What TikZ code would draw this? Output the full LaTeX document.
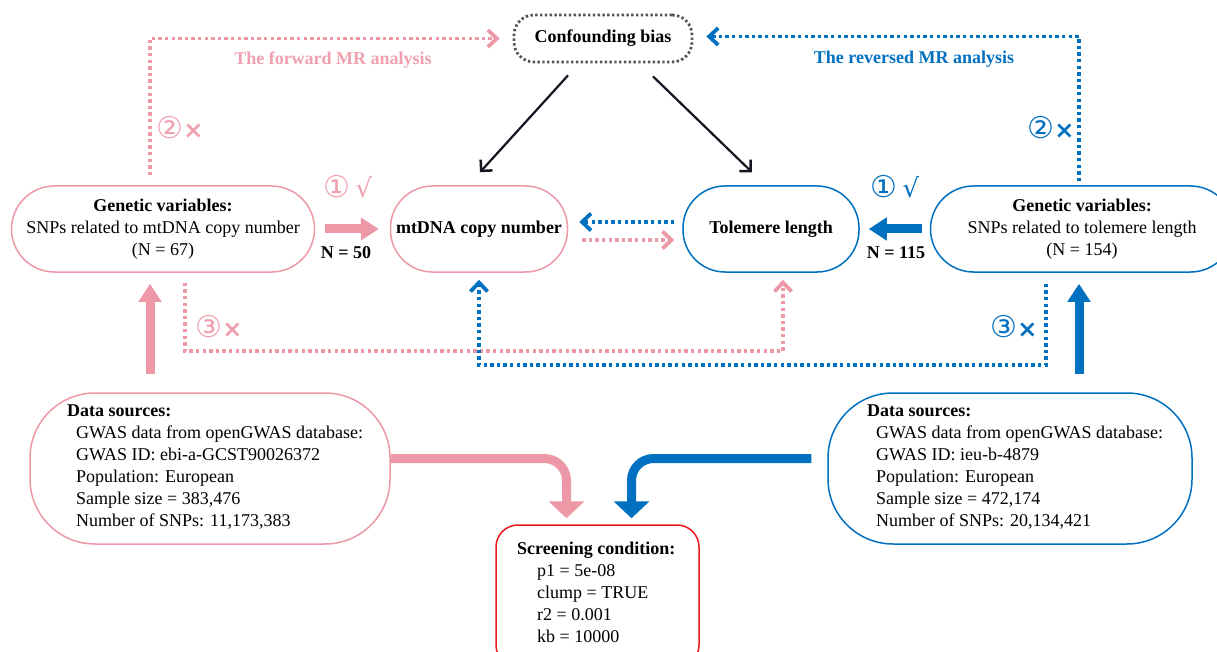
\documentclass[tikz,border=0pt]{standalone}
\usepackage{fontspec}
\setmainfont{Liberation Serif}
\newfontfamily\symf{DejaVu Sans}
\usetikzlibrary{arrows.meta,calc}
\definecolor{pk}{RGB}{236,152,166}
\definecolor{pkt}{RGB}{240,160,174}
\definecolor{bl}{RGB}{0,112,192}
\definecolor{rd}{RGB}{235,25,30}
\definecolor{dgray}{RGB}{85,85,85}
\definecolor{blk}{RGB}{20,20,35}
\newcommand{\cnum}[1]{{\fontsize{30}{30}\selectfont #1}}
\newcommand{\xmark}{{\fontsize{24}{24}\selectfont\bfseries ×}}
\newcommand{\ckmark}{{\fontsize{26}{26}\selectfont √}}
\begin{document}
\begin{tikzpicture}[x=1pt,y=-1pt,
  txt/.style={font=\fontsize{18}{22}\selectfont, inner sep=0pt},
  btxt/.style={font=\bfseries\fontsize{18}{22}\selectfont, inner sep=0pt},
  sym/.style={font=\symf, inner sep=0pt},
  box/.style={draw, line width=1.5pt, rounded corners=#1, inner sep=0pt, align=center, font=\fontsize{18}{22}\selectfont},
  chev/.style={-{Straight Barb[length=9pt,width=17pt,line width=3.8pt]}},
  pdot/.style={draw=pk, line width=3.8pt, dash pattern=on 3.4pt off 3.2pt, chev},
  bdot/.style={draw=bl, line width=3.8pt, dash pattern=on 3.4pt off 3.2pt, chev},
  thick arrow/.style={line width=9pt, -{Triangle[length=18pt,width=22pt]}},
  bend arrow/.style={line width=9pt, rounded corners=22pt, -{Triangle[length=17pt,width=35pt]}},
  blkarrow/.style={draw=blk, line width=2.2pt, -{Straight Barb[length=8pt,width=16pt,line width=2.5pt]}}
]
\clip (0,0) rectangle (1217,652);
\fill[white] (0,0) rectangle (1217,652);

% boxes
\node[box=20pt, draw=dgray, line width=2.8pt, dash pattern=on 2.4pt off 2.4pt, minimum width=178pt, minimum height=47pt, font=\bfseries\fontsize{18}{22}\selectfont] (conf) at (603,38.5) {Confounding bias};
\node[box=43pt, draw=pk, minimum width=303pt, minimum height=86pt] (gl) at (163,229) {\textbf{Genetic variables:}\\SNPs related to mtDNA copy number\\(N = 67)};
\node[box=42pt, draw=pk, minimum width=177pt, minimum height=86pt, font=\bfseries\fontsize{18}{22}\selectfont] (mt) at (479,229) {mtDNA copy number};
\node[box=42pt, draw=bl, minimum width=176pt, minimum height=86pt, font=\bfseries\fontsize{18}{22}\selectfont] (tl) at (771,229) {Tolemere length};
\node[box=43pt, draw=bl, minimum width=303pt, minimum height=86pt] (gr) at (1082,229) {\textbf{Genetic variables:}\\SNPs related to tolemere length\\(N = 154)};

\node[box=65pt, draw=pk, minimum width=360pt, minimum height=151pt] (dl) at (210,468.5) {};
\node[txt, anchor=base west] (dlt) at (67,416) {\begin{tabular}[t]{@{}l@{}}\textbf{Data sources:}\\
\hspace*{9pt}GWAS data from openGWAS database:\\
\hspace*{9pt}GWAS ID: ebi-a-GCST90026372\\
\hspace*{9pt}Population: European\\
\hspace*{9pt}Sample size = 383,476\\
\hspace*{9pt}Number of SNPs: 11,173,383\end{tabular}};

\node[box=65pt, draw=bl, minimum width=364pt, minimum height=151pt] (dr) at (1010,468.5) {};
\node[txt, anchor=base west] (drt) at (867,416) {\begin{tabular}[t]{@{}l@{}}\textbf{Data sources:}\\
\hspace*{9pt}GWAS data from openGWAS database:\\
\hspace*{9pt}GWAS ID: ieu-b-4879\\
\hspace*{9pt}Population: European\\
\hspace*{9pt}Sample size = 472,174\\
\hspace*{9pt}Number of SNPs: 20,134,421\end{tabular}};

\node[box=22pt, draw=rd, minimum width=203pt, minimum height=142pt] (sc) at (597.5,596) {};
\node[txt, anchor=base west] (sct) at (517,554) {\begin{tabular}[t]{@{}l@{}}\textbf{Screening condition:}\\
\hspace*{20pt}p1 = 5e-08\\
\hspace*{20pt}clump = TRUE\\
\hspace*{20pt}r2 = 0.001\\
\hspace*{20pt}kb = 10000\end{tabular}};

% top dotted analysis arrows
\coordinate (ptop) at ($(gl.north)+(-13,-10)$);
\coordinate (btop) at ($(gr.north)+(-3,-4)$);
\draw[pdot] (ptop) |- ($(conf.west)+(-13,0)$);
\draw[bdot] (btop) |- ($(conf.east)+(13,-2)$);
\node[btxt, text=pkt] (fwd) at (333,60) {The forward MR analysis};
\node[btxt, text=bl] (rev) at (914,59) {The reversed MR analysis};
\node[sym, text=pkt] (p2) at (180,128) {\cnum{②}\xmark};
\node[sym, text=bl] (b2) at (1051,128) {\cnum{②}\xmark};

% confounding arrows
\draw[blkarrow] ($(conf.south)+(-35,12)$) -- ($(mt.north)+(1,-13)$);
\draw[blkarrow] ($(conf.south)+(50,13)$) -- ($(tl.north)+(-19,-13)$);

% instrument arrows
\draw[thick arrow, draw=pk] ($(gl.east)+(10,0)$) -- ($(mt.west)+(-11,0)$);
\draw[thick arrow, draw=bl] ($(gr.west)+(-8,0)$) -- ($(tl.east)+(9,0)$);
\node[sym, text=pkt] (p1) at (348,187) {\cnum{①}\hspace{5pt}\ckmark};
\node[sym, text=bl] (b1) at (895,187) {\cnum{①}\hspace{5pt}\ckmark};
\node[btxt] (n50) at (346,253) {N = 50};
\node[btxt] (n115) at (896,253) {N = 115};

% between outcome boxes
\draw[bdot] ($(tl.west)+(-8,-7)$) -- ($(mt.east)+(11,-7)$);
\draw[pdot] ($(mt.east)+(14,11)$) -- ($(tl.west)+(-8,11)$);

% lower dotted paths
\coordinate (plow) at ($(gl.south)+(22,10)$);
\coordinate (blow) at ($(gr.south)+(-36,11)$);
\draw[pdot] (plow) |- (600,351) -| ($(tl.south)+(12,7)$);
\draw[bdot] (blow) |- (700,365) -| ($(mt.south)+(0,7)$);
\node[sym, text=pkt] (p3) at (219,327) {\cnum{③}\xmark};
\node[sym, text=bl] (b3) at (1014,327) {\cnum{③}\xmark};

% data to instruments
\draw[thick arrow, draw=pk] ($(dl.north)+(-60,-18)$) -- ($(gl.south)+(-13,11)$);
\draw[thick arrow, draw=bl] ($(dr.north)+(69,-18)$) -- ($(gr.south)+(-3,11)$);

% data to screening
\draw[bend arrow, draw=pk] ($(dl.east)+(0,-10)$) -| ($(sc.north)+(-31,-6)$);
\draw[bend arrow, draw=bl] ($(dr.west)+(-16,-10)$) -| ($(sc.north)+(34,-6)$);
\end{tikzpicture}
\end{document}
